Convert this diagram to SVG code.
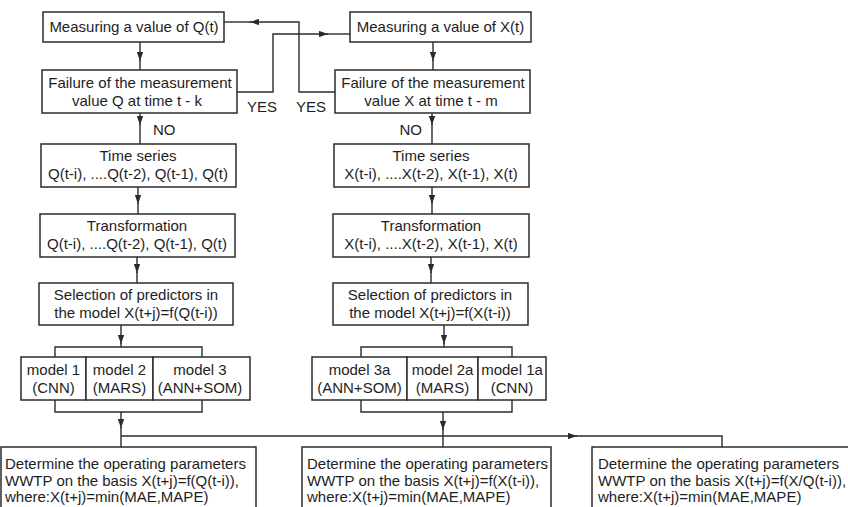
<svg xmlns="http://www.w3.org/2000/svg" width="848" height="507" viewBox="0 0 848 507">
<style>
  .box { fill: #ffffff; stroke: #2b2b2b; stroke-width: 1.5; }
  .ln { fill: none; stroke: #2b2b2b; stroke-width: 1.4; }
  .arr { fill: none; stroke: #2b2b2b; stroke-width: 1.4; marker-end: url(#ah); }
  text { font-family: "Liberation Sans", Arial, sans-serif; font-size: 15px; fill: #1e1e1e; }
  .c { text-anchor: middle; }
</style>
<defs>
  <marker id="ah" viewBox="0 0 10 7" refX="10" refY="3.5" markerWidth="9" markerHeight="6.5" markerUnits="userSpaceOnUse" orient="auto">
    <path d="M0,0 L10,3.5 L0,7 Z" fill="#2b2b2b"/>
  </marker>
</defs>
<rect width="848" height="507" fill="#ffffff"/>

<g id="connectors">
  <!-- left column -->
  <path class="arr" d="M140,42 V61"/><path class="ln" d="M140,60 V70"/>
  <path class="arr" d="M140,113 V125"/><path class="ln" d="M140,124 V144"/>
  <path class="arr" d="M138,187 V204"/><path class="ln" d="M138,203 V214"/>
  <path class="arr" d="M137,257 V273"/><path class="ln" d="M137,272 V283"/>
  <path class="arr" d="M121,325 V344"/><path class="ln" d="M121,343 V347"/>
  <path class="ln" d="M55,357 V347 H202 V357"/>
  <path class="ln" d="M55,400 V412 H202 V400"/>
  <path class="arr" d="M121,412 V428"/><path class="ln" d="M121,427 V447"/>
  <path class="arr" d="M121,436 H577"/><path class="ln" d="M576,436 H722 V447"/>
  <!-- right column -->
  <path class="arr" d="M433,42 V61"/><path class="ln" d="M433,60 V70"/>
  <path class="arr" d="M432,113 V125"/><path class="ln" d="M432,124 V144"/>
  <path class="arr" d="M432,187 V204"/><path class="ln" d="M432,203 V214"/>
  <path class="arr" d="M431,257 V273"/><path class="ln" d="M431,272 V283"/>
  <path class="arr" d="M444,325 V344"/><path class="ln" d="M444,343 V347"/>
  <path class="ln" d="M361,357 V347 H512 V357"/>
  <path class="ln" d="M361,400 V412 H512 V400"/>
  <path class="arr" d="M443,412 V430"/><path class="ln" d="M443,429 V447"/>
  <!-- cross connections -->
  <path class="arr" d="M237,92 H273 V34 H328"/><path class="ln" d="M327,34 H350"/>
  <path class="arr" d="M335,92 H299 V22 H250"/><path class="ln" d="M251,22 H224"/>
  <text class="c" x="262" y="112">YES</text>
  <text class="c" x="311" y="112">YES</text>
  <text x="153" y="135">NO</text>
  <text x="422" y="135" text-anchor="end">NO</text>
</g>

<g id="measureQ"><rect class="box" x="43" y="12" width="181" height="30"/><text class="c" x="134" y="32">Measuring a value of Q(t)</text></g>
<g id="failureQ"><rect class="box" x="42" y="70" width="195" height="43"/><text class="c" x="140" y="88">Failure of the measurement</text><text class="c" x="137" y="106">value Q at time t - k</text></g>
<g id="seriesQ"><rect class="box" x="41" y="144" width="195" height="43"/><text class="c" x="138" y="161">Time series</text><text class="c" x="138" y="179">Q(t-i), ....Q(t-2), Q(t-1), Q(t)</text></g>
<g id="transQ"><rect class="box" x="40" y="214" width="195" height="43"/><text class="c" x="137" y="231">Transformation</text><text class="c" x="137" y="249">Q(t-i), ....Q(t-2), Q(t-1), Q(t)</text></g>
<g id="selectQ"><rect class="box" x="39" y="283" width="194" height="42"/><text class="c" x="136" y="300">Selection of predictors in</text><text class="c" x="136" y="318">the model X(t+j)=f(Q(t-i))</text></g>
<g id="model1"><rect class="box" x="21" y="357" width="65" height="43"/><text class="c" x="53.5" y="375">model 1</text><text class="c" x="53.5" y="393">(CNN)</text></g>
<g id="model2"><rect class="box" x="86" y="357" width="67" height="43"/><text class="c" x="119.5" y="375">model 2</text><text class="c" x="119.5" y="393">(MARS)</text></g>
<g id="model3"><rect class="box" x="153" y="357" width="97" height="43"/><text class="c" x="200" y="375">model 3</text><text class="c" x="200" y="393">(ANN+SOM)</text></g>

<g id="measureX"><rect class="box" x="350" y="12" width="181" height="30"/><text class="c" x="440.5" y="32">Measuring a value of X(t)</text></g>
<g id="failureX"><rect class="box" x="335" y="70" width="195" height="43"/><text class="c" x="433" y="88">Failure of the measurement</text><text class="c" x="431" y="106">value X at time t - m</text></g>
<g id="seriesX"><rect class="box" x="334" y="144" width="195" height="43"/><text class="c" x="431" y="161">Time series</text><text class="c" x="431" y="179">X(t-i), ....X(t-2), X(t-1), X(t)</text></g>
<g id="transX"><rect class="box" x="333" y="214" width="196" height="43"/><text class="c" x="431" y="231">Transformation</text><text class="c" x="431" y="249">X(t-i), ....X(t-2), X(t-1), X(t)</text></g>
<g id="selectX"><rect class="box" x="333" y="283" width="195" height="42"/><text class="c" x="430" y="300">Selection of predictors in</text><text class="c" x="430" y="318">the model X(t+j)=f(X(t-i))</text></g>
<g id="model3a"><rect class="box" x="312" y="357" width="95" height="43"/><text class="c" x="359.5" y="375">model 3a</text><text class="c" x="359.5" y="393">(ANN+SOM)</text></g>
<g id="model2a"><rect class="box" x="407" y="357" width="71" height="43"/><text class="c" x="442.5" y="375">model 2a</text><text class="c" x="442.5" y="393">(MARS)</text></g>
<g id="model1a"><rect class="box" x="478" y="357" width="68" height="43"/><text class="c" x="512" y="375">model 1a</text><text class="c" x="512" y="393">(CNN)</text></g>

<g id="resultQ"><rect class="box" x="1" y="447" width="255" height="80"/><text x="5" y="468.5">Determine the operating parameters</text><text x="5" y="485.5">WWTP on the basis X(t+j)=f(Q(t-i)),</text><text x="5" y="502">where:X(t+j)=min(MAE,MAPE)</text></g>
<g id="resultX"><rect class="box" x="302" y="447" width="249" height="80"/><text x="307" y="468.5">Determine the operating parameters</text><text x="307" y="485.5">WWTP on the basis X(t+j)=f(X(t-i)),</text><text x="307" y="502">where:X(t+j)=min(MAE,MAPE)</text></g>
<g id="resultXQ"><rect class="box" x="592" y="447" width="270" height="80"/><text x="598" y="468.5">Determine the operating parameters</text><text x="598" y="485.5">WWTP on the basis X(t+j)=f(X/Q(t-i)),</text><text x="598" y="502">where:X(t+j)=min(MAE,MAPE)</text></g>
</svg>
